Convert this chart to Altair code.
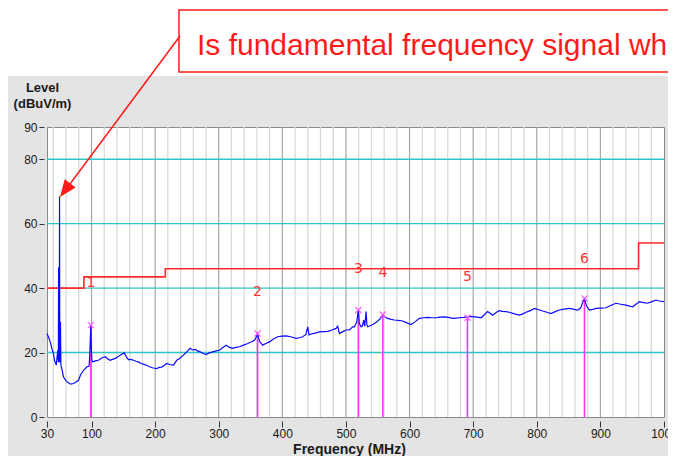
import altair as alt
import pandas as pd

# ---------------- data ----------------
freq = [30, 33, 35, 38, 40.2, 42, 44.5, 46, 47, 47.8, 48.3, 48.7, 49.3, 49.7, 50.1, 50.6, 51.2, 51.8,
        53.3, 56, 60, 63.8, 67, 71.6, 75, 79.5, 83, 87.4, 92.5, 96.3, 97.5, 98.4, 99, 99.6, 100.5,
        102, 106, 110.9, 116, 121.5, 125, 129.3, 133, 137.2, 141, 145, 151.3, 155, 158.1, 162,
        165.9, 170, 173.8, 178, 181.7, 187, 192.2, 197, 202.6, 206, 210.4, 214, 218.3, 223, 228.8,
        234, 239, 244.5, 250, 255, 259, 262.9, 266, 270.8, 275, 280, 285, 290.6, 296, 301, 306,
        311.6, 317, 322, 327, 332.5, 339, 345.6, 351, 356, 359, 361, 364, 369, 374, 379.7, 386,
        392.7, 399, 405.9, 413, 421.6, 427, 432, 437, 439.9, 442, 447.7, 453, 458.3, 465, 471.3,
        478, 484.5, 487, 489.7, 495, 500.2, 505.4, 510.6, 513.3, 517, 519.5, 521, 523.8, 526,
        527.9, 529.5, 531.7, 533, 534.2, 538, 542, 546, 549.9, 554, 558, 561, 565.6, 571, 576.1,
        582, 589.2, 595, 602.3, 609, 615.4, 622, 628.5, 635, 641.7, 648, 654.7, 661, 667.8, 673,
        678.3, 685, 691, 696, 701.9, 707, 712.4, 718, 722.8, 727, 730.6, 736, 741.2, 746, 751.7,
        756.9, 765, 772.6, 778, 783.1, 790, 796.2, 803, 809.2, 816, 822.4, 829, 835.5, 843, 851.2,
        857, 864.2, 869, 872, 875, 878, 882.6, 888, 893.1, 900, 908.8, 916, 924.5, 932, 940.3,
        946, 950.7, 956, 961.2, 968, 974.2, 981, 987.4, 993, 999.3, 1000]
level = [25.9, 24.5, 23.3, 21.0, 19.7, 17.5, 16.1, 19.0, 20.7, 17.0, 46.5, 20.0, 17.0, 68.5, 21.0, 17.0,
         29.5, 16.0, 15.0, 12.4, 11.2, 10.6, 10.2, 10.4, 10.8, 11.4, 13.2, 14.5, 15.5, 15.8, 20.7,
         26.0, 28.5, 22.0, 17.5, 17.1, 17.4, 17.6, 18.3, 18.7, 18.1, 17.6, 17.9, 18.2, 18.6, 19.2,
         19.9, 18.6, 17.8, 17.9, 17.6, 17.3, 17.1, 16.6, 16.4, 16.0, 15.5, 15.2, 15.0, 15.4, 15.5,
         16.0, 16.6, 16.3, 16.1, 17.6, 18.2, 19.2, 20.3, 21.3, 20.8, 21.0, 20.6, 20.2, 19.8, 19.4,
         19.9, 20.2, 20.5, 20.7, 21.5, 22.3, 21.6, 21.3, 21.6, 21.8, 22.3, 22.8, 23.3, 23.8, 24.8,
         25.9, 23.5, 22.3, 22.8, 23.3, 24.2, 24.9, 25.1, 25.2, 24.9, 24.4, 24.6, 24.9, 25.6, 28.0,
         25.5, 25.9, 26.1, 26.4, 26.5, 26.6, 27.0, 27.5, 28.2, 25.9, 26.5, 27.0, 27.0, 28.0, 28.0,
         29.5, 33.2, 29.0, 28.0, 28.3, 30.1, 28.2, 32.7, 28.5, 28.0, 28.3, 28.7, 29.2, 29.8, 30.5,
         31.8, 31.0, 30.6, 30.3, 30.1, 30.0, 29.8, 29.3, 28.7, 29.6, 30.6, 30.8, 30.9, 30.8, 30.8,
         31.0, 31.1, 30.9, 30.6, 30.7, 30.8, 30.9, 31.1, 31.2, 31.1, 31.0, 30.8, 31.8, 32.7, 32.1,
         31.6, 32.4, 33.0, 32.8, 32.7, 32.5, 32.0, 31.6, 32.0, 32.5, 33.0, 33.7, 33.3, 32.9, 32.5,
         32.1, 32.7, 33.2, 33.5, 33.7, 33.5, 33.2, 33.8, 35.5, 36.8, 34.5, 33.2, 33.4, 33.7, 33.8,
         33.9, 34.6, 35.3, 35.0, 34.7, 34.4, 34.2, 35.0, 35.8, 35.5, 35.3, 35.8, 36.3, 36.0, 35.8,
         35.9]

limit_freq = [30, 88, 216, 960, 1000]
limit_level = [40, 43.5, 46, 54, 54]

marker_id = ["1", "2", "3", "4", "5", "6"]
marker_freq = [99, 361, 519.5, 558, 691, 875]
marker_level = [28.5, 25.9, 33.2, 31.8, 30.8, 36.8]
marker_label_level = [41.5, 38.7, 45.8, 44.6, 43.5, 48.9]

x_ticks = [30, 100, 200, 300, 400, 500, 600, 700, 800, 900, 1000]
y_ticks = [0, 20, 40, 60, 80, 90]
minor_grid = [f for f in range(40, 1000, 20) if f % 100 != 0]
major_grid = [100, 200, 300, 400, 500, 600, 700, 800, 900]
cyan_grid = [20, 40, 60, 80]

annotation = "Is fundamental frequency signal which"

# ---------------- tables ----------------
trace_df = pd.DataFrame({"f": freq, "v": level})
limit_df = pd.DataFrame({"f": limit_freq, "v": limit_level})
marker_df = pd.DataFrame({"id": marker_id, "f": marker_freq, "v": marker_level,
                          "lv": marker_label_level})
minor_df = pd.DataFrame({"f": minor_grid})
major_df = pd.DataFrame({"f": major_grid})
cyan_df = pd.DataFrame({"v": cyan_grid})
one_df = pd.DataFrame({"t": [annotation]})

W, H = 617, 290
FONT = "Liberation Sans"

xs = alt.Scale(domain=[30, 1000], nice=False, zero=False)
ys = alt.Scale(domain=[0, 90], nice=False, zero=False)

xaxis = alt.Axis(values=x_ticks, title="Frequency (MHz)", grid=False, domain=False,
                 tickSize=6, tickColor="#333333", tickWidth=1, offset=4,
                 labelFontSize=12, labelColor="#1a1a1a", labelFont=FONT, labelPadding=1,
                 labelFlush=False, labelOverlap=False, format="d",
                 titleFont=FONT, titleFontSize=14, titleFontWeight="bold", titleColor="#1a1a1a",
                 titleX=302, titleY=32, titleBaseline="alphabetic", titleAlign="center")
yaxis = alt.Axis(values=y_ticks, title=["Level", "(dBuV/m)"], grid=False, domain=False,
                 tickSize=5, tickColor="#333333", tickWidth=1, offset=3,
                 labelFontSize=12, labelColor="#1a1a1a", labelFont=FONT, labelPadding=2,
                 labelOverlap=False, format="d",
                 titleFont=FONT, titleFontSize=13, titleFontWeight="bold", titleColor="#1a1a1a",
                 titleAngle=0, titleAlign="center", titleBaseline="bottom",
                 titleX=-2, titleY=-33, titleLineHeight=16)


def X(field):
    return alt.X(f"{field}:Q", scale=xs, axis=xaxis)


def Y(field):
    return alt.Y(f"{field}:Q", scale=ys, axis=yaxis)


# white strip on top (above grey panel)
top_band = alt.Chart(one_df).mark_rect(color="white").encode(
    x=alt.value(-40), x2=alt.value(660), y=alt.value(-120), y2=alt.value(-51))

# plot grid
minor = alt.Chart(minor_df).mark_rule(color="#d9d9d9", strokeWidth=1.3).encode(x=X("f"))
major = alt.Chart(major_df).mark_rule(color="#a6a6a6", strokeWidth=1.2).encode(x=X("f"))
cyan = alt.Chart(cyan_df).mark_rule(color="#2cc6c6", strokeWidth=1.4).encode(y=Y("v"))

limit = alt.Chart(limit_df).mark_line(color="#ff2a2a", strokeWidth=1.6,
                                      interpolate="step-after").encode(x=X("f"), y=Y("v"))

mrules = alt.Chart(marker_df).mark_rule(color="#ff33ff", strokeWidth=1.6).encode(
    x=X("f"), y=Y("v"), y2=alt.datum(0))

trace = alt.Chart(trace_df).mark_line(color="#0a0aff", strokeWidth=1.2).encode(
    x=X("f"), y=Y("v"))

mx = alt.Chart(marker_df).mark_point(shape="M-1,-1L1,1M-1,1L1,-1", filled=False,
                                     color="#ff5cff", strokeWidth=1.2, size=36, opacity=1).encode(
    x=X("f"), y=Y("v"))

mlabels = alt.Chart(marker_df).mark_text(color="#ff3535", font="DejaVu Sans", fontSize=14,
                                         align="center", baseline="middle").encode(
    x=X("f"), y=Y("lv"), text="id:N")

# annotation
box = alt.Chart(one_df).mark_rect(fill="white", stroke="#ff1a1a", strokeWidth=1.5).encode(
    x=alt.value(132), x2=alt.value(700), y=alt.value(-117), y2=alt.value(-55))
atext = alt.Chart(one_df).mark_text(color="#ff1a1a", font=FONT, fontSize=30,
                                    align="left", baseline="alphabetic").encode(
    x=alt.value(150), y=alt.value(-72), text="t:N")
aline = alt.Chart(one_df).mark_rule(color="#ff1a1a", strokeWidth=1.5).encode(
    x=alt.value(133), y=alt.value(-91), x2=alt.value(23), y2=alt.value(57))
ahead = alt.Chart(one_df).mark_point(shape="M0,0L0.8,2L-0.8,2Z", filled=True, fill="#ff1a1a",
                                     strokeWidth=0, size=289, opacity=1, angle=216.7).encode(
    x=alt.value(13), y=alt.value(70))

chart = alt.layer(top_band, minor, major, cyan, limit, mrules, trace, mx, mlabels,
                  box, atext, aline, ahead).properties(
    width=W, height=H,
    autosize=alt.AutoSizeParams(type="none"),
    padding={"left": 39, "top": 119, "right": 4, "bottom": 39},
).configure(
    background="#e4e4e4", font=FONT
).configure_view(
    fill="white", stroke="#8a8a8a", strokeWidth=1
)

chart.save("out.html", embed_options={"renderer": "svg", "actions": False})
